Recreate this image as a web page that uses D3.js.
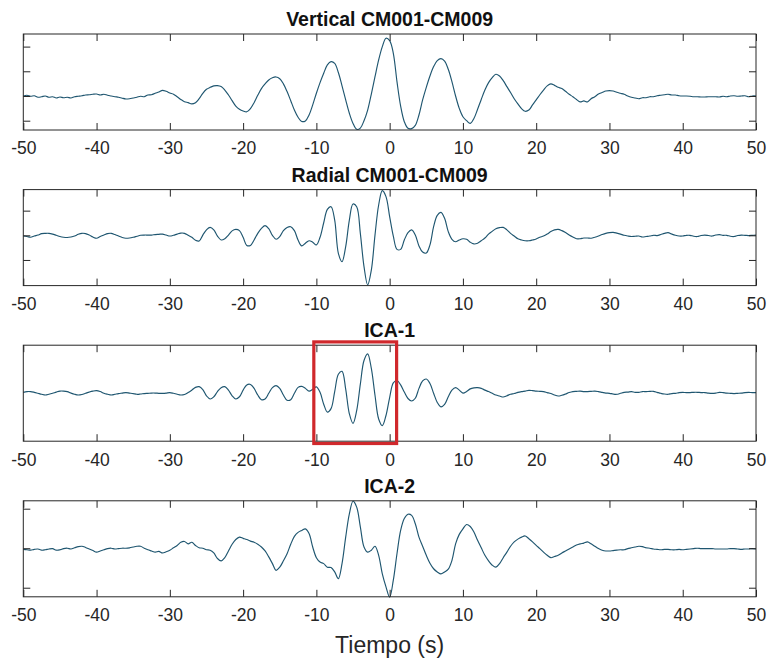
<!DOCTYPE html>
<html>
<head>
<meta charset="utf-8">
<script src="https://cdn.jsdelivr.net/npm/d3@7"></script>
<style>
  html, body { margin: 0; padding: 0; background: #fff; }
  svg { display: block; font-family: "Liberation Sans", Arial, Helvetica, sans-serif; }
</style>
</head>
<body>
<svg id="fig" width="768" height="664"></svg>
<script>
// Sample times (s), 0.5 s step
const tiempo = d3.range(-50, 50.5, 0.5);

const titulos = ["Vertical CM001-CM009", "Radial CM001-CM009", "ICA-1", "ICA-2"];

// Correlation traces, one value per sample time
const serieVertical = [
  0.00, 0.03, -0.01, 0.01, -0.05, -0.03, 0.00, -0.05, -0.03, -0.08,
  -0.04, -0.07, -0.05, -0.08, -0.03, -0.01, 0.01, 0.04, 0.05, 0.07,
  0.08, 0.04, 0.07, 0.03, 0.00, -0.03, -0.05, -0.09, -0.12, -0.11,
  -0.08, -0.05, -0.01, -0.03, 0.04, 0.05, 0.11, 0.16, 0.23, 0.19,
  0.12, 0.07, -0.03, -0.14, -0.23, -0.27, -0.32, -0.27, -0.11, 0.11,
  0.27, 0.35, 0.41, 0.42, 0.38, 0.24, 0.04, -0.19, -0.41, -0.54,
  -0.61, -0.64, -0.51, -0.27, 0.03, 0.30, 0.49, 0.65, 0.74, 0.77,
  0.70, 0.49, 0.18, -0.19, -0.57, -0.86, -1.03, -1.01, -0.77, -0.36,
  0.11, 0.54, 0.92, 1.26, 1.39, 1.32, 0.95, 0.41, -0.16, -0.70,
  -1.11, -1.35, -1.30, -1.00, -0.57, 0.08, 0.78, 1.46, 2.00, 2.34,
  2.24, 1.73, 0.58, -0.41, -1.04, -1.31, -1.32, -1.19, -0.77, -0.16,
  0.35, 0.81, 1.19, 1.43, 1.51, 1.41, 1.08, 0.58, 0.00, -0.50,
  -0.84, -1.00, -1.11, -0.91, -0.54, -0.14, 0.24, 0.54, 0.74, 0.88,
  0.81, 0.62, 0.38, 0.14, -0.11, -0.32, -0.51, -0.62, -0.57, -0.36,
  -0.16, 0.05, 0.24, 0.41, 0.49, 0.43, 0.35, 0.30, 0.19, 0.07,
  -0.03, -0.14, -0.24, -0.20, -0.24, -0.11, -0.03, 0.08, 0.14, 0.20,
  0.22, 0.20, 0.15, 0.11, 0.07, 0.00, -0.05, -0.08, -0.11, -0.07,
  -0.07, -0.03, -0.03, 0.01, 0.03, 0.05, 0.07, 0.04, 0.04, 0.01,
  0.00, 0.00, -0.01, -0.03, -0.03, -0.04, -0.04, -0.03, -0.03, -0.03,
  -0.04, -0.01, -0.03, 0.00, 0.01, -0.01, 0.00, 0.01, -0.03, 0.00,
  0.00
];

const serieRadial = [
  -0.03, -0.05, -0.08, -0.03, 0.01, 0.07, 0.08, 0.08, 0.05, 0.00,
  -0.05, -0.08, -0.09, -0.07, -0.03, 0.04, 0.08, 0.07, 0.01, -0.07,
  -0.12, -0.05, 0.01, 0.07, 0.08, 0.03, -0.03, -0.09, -0.12, -0.11,
  -0.08, -0.04, 0.00, 0.01, 0.01, 0.01, 0.03, 0.04, 0.05, 0.01,
  -0.03, 0.00, 0.05, 0.09, 0.08, 0.00, -0.08, -0.20, -0.23, 0.01,
  0.22, 0.32, 0.22, -0.03, -0.19, -0.14, 0.01, 0.18, 0.24, 0.19,
  -0.08, -0.41, -0.41, -0.19, 0.08, 0.28, 0.39, 0.27, 0.00, -0.16,
  -0.05, 0.19, 0.32, 0.35, 0.19, -0.19, -0.43, -0.32, -0.22, -0.28,
  -0.39, -0.08, 0.51, 1.05, 1.16, 0.62, -0.73, -1.07, -0.46, 0.62,
  1.27, 1.16, 0.08, -1.27, -2.01, -1.41, 0.01, 1.23, 1.81, 1.57,
  0.76, -0.03, -0.57, -0.57, -0.19, 0.11, 0.22, 0.01, -0.43, -0.68,
  -0.72, -0.39, 0.35, 0.81, 0.93, 0.69, 0.15, -0.16, -0.26, -0.19,
  -0.14, -0.16, -0.28, -0.35, -0.32, -0.22, -0.11, 0.05, 0.16, 0.27,
  0.31, 0.32, 0.22, 0.08, -0.03, -0.14, -0.19, -0.22, -0.22, -0.19,
  -0.15, -0.08, -0.03, 0.05, 0.15, 0.22, 0.24, 0.19, 0.11, 0.01,
  -0.07, -0.14, -0.14, -0.11, -0.11, -0.12, -0.08, -0.03, 0.03, 0.08,
  0.11, 0.12, 0.09, 0.05, 0.00, -0.03, -0.05, -0.04, -0.03, -0.07,
  -0.05, -0.03, 0.00, -0.01, 0.03, 0.08, 0.11, 0.05, 0.00, -0.03,
  -0.03, 0.00, 0.00, -0.04, -0.05, -0.01, 0.01, -0.01, -0.03, 0.01,
  0.03, 0.00, 0.00, -0.04, -0.05, -0.01, 0.01, 0.00, -0.01, 0.00,
  0.01
];

const serieICA1 = [
  0.00, 0.03, 0.03, 0.00, -0.04, -0.08, -0.11, -0.08, -0.04, 0.01,
  0.05, 0.05, 0.03, -0.03, -0.08, -0.11, -0.09, -0.04, 0.01, 0.05,
  0.07, 0.03, -0.04, -0.08, -0.11, -0.08, -0.05, -0.03, -0.01, -0.03,
  -0.05, -0.08, -0.07, -0.05, -0.04, -0.03, -0.03, -0.04, -0.04, -0.03,
  -0.01, -0.04, -0.08, -0.11, -0.09, -0.01, 0.09, 0.20, 0.23, 0.11,
  -0.14, -0.27, -0.18, 0.03, 0.19, 0.23, 0.09, -0.14, -0.27, -0.18,
  0.09, 0.30, 0.32, 0.16, -0.11, -0.30, -0.27, -0.04, 0.19, 0.27,
  0.16, -0.11, -0.32, -0.30, -0.04, 0.20, 0.24, 0.16, 0.05, 0.12,
  0.22, 0.00, -0.48, -0.80, -0.66, 0.03, 0.73, 0.85, 0.13, -0.87,
  -1.26, -0.74, 0.33, 1.29, 1.56, 0.97, -0.12, -1.08, -1.35, -0.94,
  -0.21, 0.38, 0.48, 0.30, 0.01, -0.25, -0.35, -0.24, 0.16, 0.46,
  0.54, 0.36, -0.04, -0.41, -0.59, -0.49, -0.18, 0.09, 0.19, 0.09,
  -0.03, 0.03, 0.14, 0.18, 0.19, 0.16, 0.09, 0.03, -0.04, -0.11,
  -0.15, -0.19, -0.14, -0.08, -0.05, 0.00, 0.03, 0.05, 0.08, 0.07,
  0.05, 0.04, 0.03, -0.01, -0.05, -0.11, -0.15, -0.12, -0.07, -0.01,
  0.03, 0.04, 0.05, 0.03, 0.03, 0.04, 0.05, 0.03, 0.00, -0.03,
  -0.04, -0.07, -0.08, -0.04, 0.00, 0.01, 0.03, 0.00, 0.00, 0.03,
  0.03, 0.04, 0.04, 0.00, -0.04, -0.07, -0.08, -0.05, -0.04, -0.01,
  0.00, -0.01, -0.01, 0.00, 0.00, -0.01, -0.01, -0.03, -0.04, -0.03,
  0.00, -0.01, -0.03, -0.04, -0.05, -0.04, -0.03, -0.01, 0.00, -0.01,
  -0.01
];

const serieICA2 = [
  -0.03, -0.04, -0.05, -0.03, -0.02, -0.05, -0.04, -0.02, -0.01, -0.05,
  -0.04, -0.01, 0.00, -0.02, 0.01, 0.04, 0.05, 0.02, -0.02, -0.06,
  -0.10, -0.07, -0.04, -0.01, 0.00, -0.02, -0.01, 0.00, 0.00, 0.01,
  0.03, 0.05, 0.05, 0.00, -0.04, -0.07, -0.10, -0.08, -0.12, -0.09,
  -0.05, 0.01, 0.07, 0.15, 0.17, 0.11, 0.15, 0.07, 0.01, 0.00,
  -0.04, -0.05, -0.12, -0.26, -0.32, -0.24, -0.07, 0.10, 0.22, 0.28,
  0.25, 0.22, 0.18, 0.15, 0.10, 0.03, -0.07, -0.22, -0.39, -0.56,
  -0.48, -0.32, -0.14, 0.10, 0.30, 0.40, 0.45, 0.49, 0.37, 0.03,
  -0.24, -0.35, -0.39, -0.48, -0.49, -0.60, -0.77, -0.39, 0.28, 0.87,
  1.19, 1.04, 0.54, 0.03, -0.10, -0.05, 0.05, -0.18, -0.65, -0.98,
  -1.24, -0.81, -0.14, 0.45, 0.75, 0.86, 0.83, 0.62, 0.28, 0.05,
  -0.18, -0.38, -0.52, -0.60, -0.65, -0.60, -0.53, -0.31, 0.11, 0.35,
  0.49, 0.60, 0.55, 0.41, 0.20, 0.01, -0.18, -0.32, -0.43, -0.48,
  -0.39, -0.24, -0.10, 0.05, 0.16, 0.23, 0.28, 0.31, 0.24, 0.16,
  0.07, -0.01, -0.10, -0.18, -0.24, -0.21, -0.18, -0.12, -0.07, -0.02,
  0.03, 0.08, 0.11, 0.13, 0.16, 0.11, 0.05, -0.01, -0.05, -0.07,
  -0.07, -0.06, -0.05, -0.04, -0.04, -0.01, 0.01, 0.03, 0.05, 0.04,
  0.01, 0.00, -0.02, -0.03, -0.04, -0.03, -0.03, -0.04, -0.04, -0.03,
  -0.04, -0.03, -0.02, -0.01, 0.00, -0.01, -0.01, -0.01, -0.01, -0.02,
  -0.02, -0.02, -0.02, -0.01, -0.01, -0.02, -0.03, -0.02, -0.02, -0.01,
  -0.02
];

const series = [serieVertical, serieRadial, serieICA1, serieICA2];

// Axis settings
const ticksX = [-50, -40, -30, -20, -10, 0, 10, 20, 30, 40, 50];
const limitesY = [[-1.377, 2.51], [-2.04, 1.854], [-1.98, 1.909], [-1.23, 1.20]];
const ticksY = [[-1, 0, 1, 2], [-1, 0, 1], [], [-1, 0, 1]];
const etiquetaX = "Tiempo (s)";

// Time window highlighted on ICA-1
const ventanaICA1 = [-10.35, 0.95];

// ---- layout ----
const W = 768, H = 664;
const left = 23.3, right = 756;
const top0 = 34, step = 155.6, h = 96;
const axisColor = "#262626";
const lineColor = "#1f5670";
const font = "'Liberation Sans', Arial, Helvetica, sans-serif";

const svg = d3.select("#fig");
svg.append("rect").attr("width", W).attr("height", H).attr("fill", "#fff");

const x = d3.scaleLinear().domain([-50, 50]).range([left, right]);

series.forEach((vals, i) => {
  const t = top0 + i * step, b = t + h;
  const y = d3.scaleLinear().domain(limitesY[i]).range([b, t]);
  const g = svg.append("g");

  // trace
  const line = d3.line()
    .x((d, k) => x(tiempo[k]))
    .y(d => y(d))
    .curve(d3.curveCatmullRom.alpha(0.5));
  g.append("path")
    .datum(vals)
    .attr("d", line)
    .attr("fill", "none")
    .attr("stroke", lineColor)
    .attr("stroke-width", 1.15)
    .attr("stroke-linejoin", "round");

  // bottom axis with labels, ticks pointing inward
  const ax = g.append("g").attr("transform", `translate(0,${b})`)
    .call(d3.axisBottom(x).tickValues(ticksX).tickSizeInner(-7).tickSizeOuter(0)
      .tickPadding(12).tickFormat(d => String(d)));
  // top axis (ticks only)
  const axTop = g.append("g").attr("transform", `translate(0,${t})`)
    .call(d3.axisTop(x).tickValues(ticksX).tickSizeInner(-7).tickSizeOuter(0).tickFormat(""));
  // left / right y ticks
  const axL = g.append("g").attr("transform", `translate(${left},0)`)
    .call(d3.axisLeft(y).tickValues(ticksY[i]).tickSizeInner(-7).tickSizeOuter(0).tickFormat(""));
  const axR = g.append("g").attr("transform", `translate(${right},0)`)
    .call(d3.axisRight(y).tickValues(ticksY[i]).tickSizeInner(-7).tickSizeOuter(0).tickFormat(""));

  [ax, axTop, axL, axR].forEach(a => {
    a.select(".domain").remove();
    a.selectAll(".tick line").attr("stroke", axisColor).attr("stroke-width", 1);
  });
  ax.selectAll(".tick text")
    .attr("fill", axisColor)
    .style("font-family", font)
    .style("font-size", "17.5px");

  // axes box
  g.append("rect")
    .attr("x", left).attr("y", t)
    .attr("width", right - left).attr("height", h)
    .attr("fill", "none")
    .attr("stroke", axisColor)
    .attr("stroke-width", 1);

  // title
  g.append("text")
    .attr("x", (left + right) / 2)
    .attr("y", t - 8)
    .attr("text-anchor", "middle")
    .attr("fill", "#111")
    .style("font-family", font)
    .style("font-size", "19.5px")
    .style("font-weight", "bold")
    .text(titulos[i]);

  // highlighted window on ICA-1
  if (i === 2) {
    g.append("rect")
      .attr("x", x(ventanaICA1[0]))
      .attr("y", t - 3.3)
      .attr("width", x(ventanaICA1[1]) - x(ventanaICA1[0]))
      .attr("height", h + 5.6)
      .attr("fill", "none")
      .attr("stroke", "#d0282c")
      .attr("stroke-width", 3.2);
  }
});

// x-axis label
svg.append("text")
  .attr("x", (left + right) / 2)
  .attr("y", 653)
  .attr("text-anchor", "middle")
  .attr("fill", axisColor)
  .style("font-family", font)
  .style("font-size", "23px")
  .text(etiquetaX);
</script>
</body>
</html>
